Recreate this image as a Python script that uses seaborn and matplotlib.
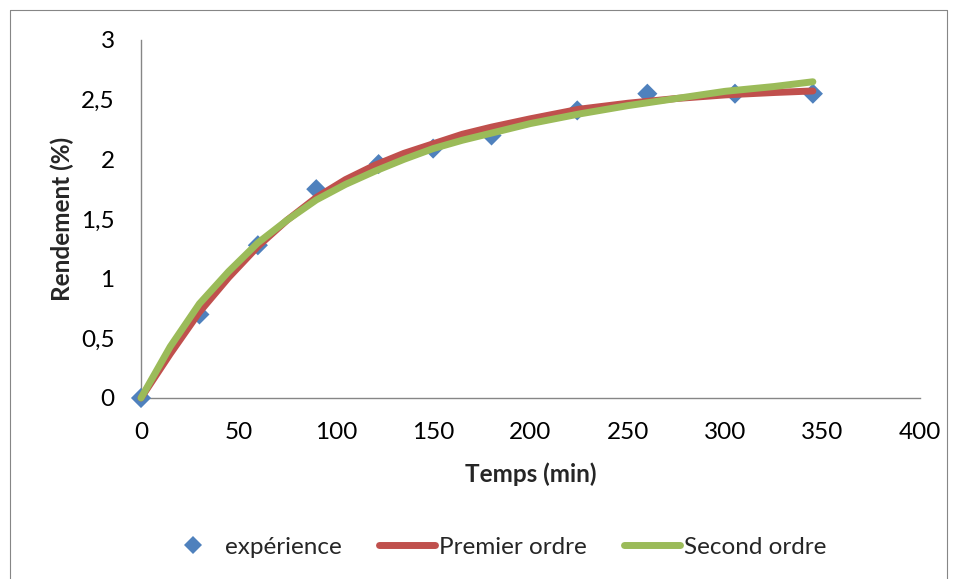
import matplotlib
matplotlib.use("Agg")
import matplotlib.pyplot as plt
import seaborn as sns
import pandas as pd
from matplotlib.lines import Line2D

# ---- data ----
time_exp = [0, 30, 60, 90, 122, 150, 180, 224, 260, 305, 345]
rend_exp = [0, 0.70, 1.28, 1.75, 1.96, 2.09, 2.20, 2.41, 2.55, 2.55, 2.55]

time_fit = [0, 15, 30, 45, 60, 75, 90, 105, 120, 135, 150, 165, 180, 200, 225, 250, 275, 300, 325, 345]
premier_ordre = [0, 0.37, 0.72, 1.01, 1.27, 1.49, 1.68, 1.83, 1.95, 2.05, 2.13, 2.21, 2.27, 2.34, 2.42, 2.47, 2.51, 2.54, 2.56, 2.573]
second_ordre = [0, 0.43, 0.79, 1.06, 1.30, 1.49, 1.66, 1.79, 1.90, 2.00, 2.09, 2.16, 2.22, 2.30, 2.38, 2.45, 2.51, 2.57, 2.61, 2.65]

x_ticks = [0, 50, 100, 150, 200, 250, 300, 350, 400]
y_ticks = [0, 0.5, 1, 1.5, 2, 2.5, 3]
y_tick_labels = ['0', '0,5', '1', '1,5', '2', '2,5', '3']

series_labels = ['expérience', 'Premier ordre', 'Second ordre']
x_title = 'Temps (min)'
y_title = 'Rendement (%)'

BLUE, RED, GREEN = '#4F81BD', '#C0504D', '#9BBB59'
AXIS_GRAY = '#868686'

sns.set_style('white')
plt.rcParams['font.family'] = ['Lato', 'DejaVu Sans']
FS = 17.5

W, H = 957, 579
fig = plt.figure(figsize=(W / 100, H / 100), dpi=100)
L, R, T, B = 141, 920, 40, 398
ax = fig.add_axes([L / W, 1 - B / H, (R - L) / W, (B - T) / H])

df_exp = pd.DataFrame({'t': time_exp, 'y': rend_exp})
df_fit = pd.DataFrame({'t': time_fit, 'p1': premier_ordre, 'p2': second_ordre})

sns.scatterplot(data=df_exp, x='t', y='y', marker='D', s=105, color=BLUE,
                edgecolor='none', ax=ax, clip_on=False, zorder=3, legend=False)
sns.lineplot(data=df_fit, x='t', y='p1', color=RED, lw=5, ax=ax, sort=False,
             solid_capstyle='round', solid_joinstyle='round', zorder=4, legend=False)
sns.lineplot(data=df_fit, x='t', y='p2', color=GREEN, lw=5, ax=ax, sort=False,
             solid_capstyle='round', solid_joinstyle='round', zorder=5, legend=False)
for ln in ax.lines:
    ln.set_clip_on(False)

ax.set_xlim(0, 400)
ax.set_ylim(0, 3)
ax.set_xticks(x_ticks)
ax.set_xticklabels([str(v) for v in x_ticks])
ax.set_yticks(y_ticks)
ax.set_yticklabels(y_tick_labels)

for s in ['top', 'right']:
    ax.spines[s].set_visible(False)
for s in ['left', 'bottom']:
    ax.spines[s].set_color(AXIS_GRAY)
    ax.spines[s].set_linewidth(1.0)
ax.tick_params(axis='both', which='major', direction='out', length=6, width=1,
               color=AXIS_GRAY, labelsize=FS, labelcolor='black')
ax.tick_params(axis='x', pad=11)
ax.tick_params(axis='y', pad=13)
ax.grid(False)

ax.set_xlabel(x_title, fontsize=FS, fontweight='bold')
ax.set_ylabel(y_title, fontsize=FS, fontweight='bold')
ax.xaxis.label.set_va('center')
ax.yaxis.label.set_va('center')
ax.xaxis.set_label_coords(0.5, (B - 474) / (B - T))
ax.yaxis.set_label_coords((62 - L) / (R - L), 0.5)

handles = [
    Line2D([], [], ls='none', marker='D', color=BLUE, markersize=9, markeredgewidth=0),
    Line2D([], [], color=RED, lw=5, solid_capstyle='round'),
    Line2D([], [], color=GREEN, lw=5, solid_capstyle='round'),
]
fig.legend(handles, series_labels, loc='center', bbox_to_anchor=(495.5 / W, 1 - 547 / H),
           ncol=3, frameon=False, fontsize=FS, handlelength=2.3, handletextpad=0.15,
           columnspacing=1.55)

# chart-area border
for xs, ys in [([10 / W, 10 / W], [0, 1 - 10 / H]),
               ([10 / W, 947 / W], [1 - 10 / H, 1 - 10 / H]),
               ([947 / W, 947 / W], [0, 1 - 10 / H])]:
    fig.add_artist(Line2D(xs, ys, color=AXIS_GRAY, lw=0.8, transform=fig.transFigure))

fig.savefig('out.png', dpi=100)
